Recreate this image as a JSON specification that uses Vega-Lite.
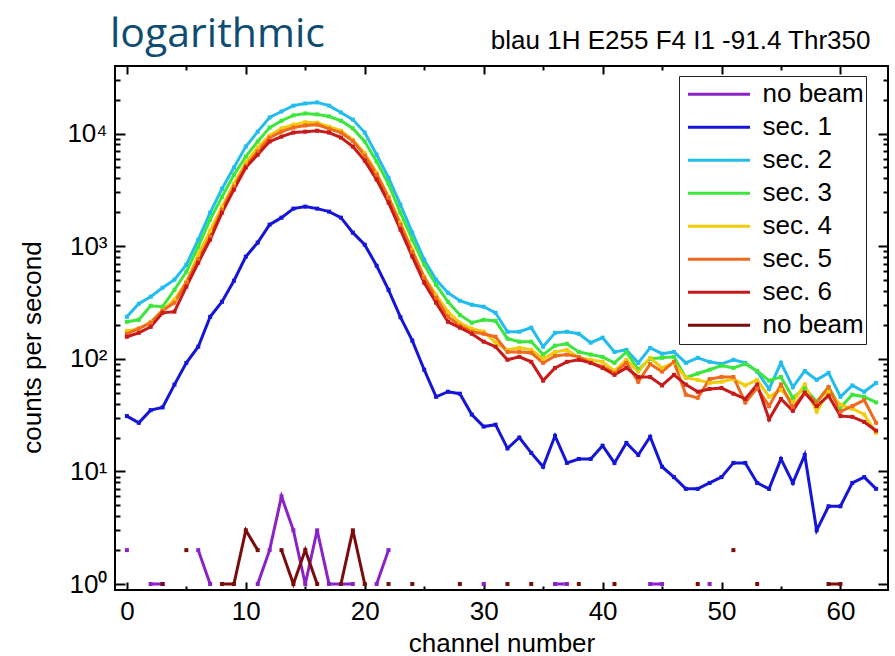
{
"$schema": "https://vega.github.io/schema/vega-lite/v6.json",
"width": 773, "height": 524,
"autosize": {"type": "none"},
"padding": {"left": 115, "top": 66, "right": 7, "bottom": 66},
"background": "white",
"title": {"text": "logarithmic", "anchor": "start", "frame": "group", "font": "Open Sans", "fontSize": 41, "fontWeight": "normal", "color": "#0F4C72", "baseline": "alphabetic", "offset": 0, "dx": -5, "dy": 61},
"data": {"values": [
{"c":0,"s":"nb1","v":2},{"c":1,"s":"nb1","v":null},{"c":2,"s":"nb1","v":1},{"c":3,"s":"nb1","v":1},{"c":4,"s":"nb1","v":null},{"c":6,"s":"nb1","v":2},{"c":7,"s":"nb1","v":1},{"c":8,"s":"nb1","v":null},{"c":11,"s":"nb1","v":1},{"c":12,"s":"nb1","v":2},{"c":13,"s":"nb1","v":6},{"c":14,"s":"nb1","v":3},{"c":15,"s":"nb1","v":1},{"c":16,"s":"nb1","v":3},{"c":17,"s":"nb1","v":1},{"c":18,"s":"nb1","v":1},{"c":19,"s":"nb1","v":1},{"c":20,"s":"nb1","v":null},{"c":21,"s":"nb1","v":1},{"c":22,"s":"nb1","v":2},{"c":23,"s":"nb1","v":null},{"c":30,"s":"nb1","v":1},{"c":31,"s":"nb1","v":null},{"c":36,"s":"nb1","v":1},{"c":37,"s":"nb1","v":1},{"c":38,"s":"nb1","v":null},{"c":44,"s":"nb1","v":1},{"c":45,"s":"nb1","v":1},{"c":46,"s":"nb1","v":null},{"c":49,"s":"nb1","v":1},
{"c":0,"s":"s1","v":31},{"c":1,"s":"s1","v":27},{"c":2,"s":"s1","v":35},{"c":3,"s":"s1","v":37},{"c":4,"s":"s1","v":59},{"c":5,"s":"s1","v":92},{"c":6,"s":"s1","v":128},{"c":7,"s":"s1","v":236},{"c":8,"s":"s1","v":321},{"c":9,"s":"s1","v":493},
{"c":10,"s":"s1","v":807},{"c":11,"s":"s1","v":1075},{"c":12,"s":"s1","v":1553},{"c":13,"s":"s1","v":1792},{"c":14,"s":"s1","v":2155},{"c":15,"s":"s1","v":2245},{"c":16,"s":"s1","v":2155},{"c":17,"s":"s1","v":2027},{"c":18,"s":"s1","v":1792},{"c":19,"s":"s1","v":1318},
{"c":20,"s":"s1","v":1030},{"c":21,"s":"s1","v":670},{"c":22,"s":"s1","v":410},{"c":23,"s":"s1","v":234},{"c":24,"s":"s1","v":145},{"c":25,"s":"s1","v":80},{"c":26,"s":"s1","v":46},{"c":27,"s":"s1","v":51},{"c":28,"s":"s1","v":49},{"c":29,"s":"s1","v":32},
{"c":30,"s":"s1","v":25},{"c":31,"s":"s1","v":26},{"c":32,"s":"s1","v":16},{"c":33,"s":"s1","v":20},{"c":34,"s":"s1","v":14.6},{"c":35,"s":"s1","v":11},{"c":36,"s":"s1","v":20.7},{"c":37,"s":"s1","v":11.9},{"c":38,"s":"s1","v":12.9},{"c":39,"s":"s1","v":12.9},
{"c":40,"s":"s1","v":16.9},{"c":41,"s":"s1","v":11.9},{"c":42,"s":"s1","v":17.9},{"c":43,"s":"s1","v":14},{"c":44,"s":"s1","v":20.3},{"c":45,"s":"s1","v":11},{"c":46,"s":"s1","v":8.9},{"c":47,"s":"s1","v":7},{"c":48,"s":"s1","v":7},{"c":49,"s":"s1","v":7.9},
{"c":50,"s":"s1","v":8.9},{"c":51,"s":"s1","v":11.9},{"c":52,"s":"s1","v":11.9},{"c":53,"s":"s1","v":7.9},{"c":54,"s":"s1","v":7},{"c":55,"s":"s1","v":12.9},{"c":56,"s":"s1","v":7.9},{"c":57,"s":"s1","v":14},{"c":58,"s":"s1","v":3},{"c":59,"s":"s1","v":4.9},
{"c":60,"s":"s1","v":4.9},{"c":61,"s":"s1","v":7.9},{"c":62,"s":"s1","v":8.9},{"c":63,"s":"s1","v":7},
{"c":0,"s":"s2","v":236},{"c":1,"s":"s2","v":308},{"c":2,"s":"s2","v":356},{"c":3,"s":"s2","v":428},{"c":4,"s":"s2","v":504},{"c":5,"s":"s2","v":685},{"c":6,"s":"s2","v":1142},{"c":7,"s":"s2","v":1985},{"c":8,"s":"s2","v":3245},{"c":9,"s":"s2","v":4990},
{"c":10,"s":"s2","v":7660},{"c":11,"s":"s2","v":10400},{"c":12,"s":"s2","v":13900},{"c":13,"s":"s2","v":15700},{"c":14,"s":"s2","v":17700},{"c":15,"s":"s2","v":18500},{"c":16,"s":"s2","v":18900},{"c":17,"s":"s2","v":17700},{"c":18,"s":"s2","v":15400},{"c":19,"s":"s2","v":13300},
{"c":20,"s":"s2","v":10200},{"c":21,"s":"s2","v":6500},{"c":22,"s":"s2","v":4060},{"c":23,"s":"s2","v":2340},{"c":24,"s":"s2","v":1318},{"c":25,"s":"s2","v":759},{"c":26,"s":"s2","v":504},{"c":27,"s":"s2","v":386},{"c":28,"s":"s2","v":328},{"c":29,"s":"s2","v":302},
{"c":30,"s":"s2","v":290},{"c":31,"s":"s2","v":256},{"c":32,"s":"s2","v":174},{"c":33,"s":"s2","v":174},{"c":34,"s":"s2","v":189},{"c":35,"s":"s2","v":128},{"c":36,"s":"s2","v":170},{"c":37,"s":"s2","v":174},{"c":38,"s":"s2","v":167},{"c":39,"s":"s2","v":139},
{"c":40,"s":"s2","v":154},{"c":41,"s":"s2","v":115},{"c":42,"s":"s2","v":120},{"c":43,"s":"s2","v":92},{"c":44,"s":"s2","v":125},{"c":45,"s":"s2","v":111},{"c":46,"s":"s2","v":115},{"c":47,"s":"s2","v":92},{"c":48,"s":"s2","v":102},{"c":49,"s":"s2","v":94},
{"c":50,"s":"s2","v":90},{"c":51,"s":"s2","v":98},{"c":52,"s":"s2","v":92},{"c":53,"s":"s2","v":77},{"c":54,"s":"s2","v":54},{"c":55,"s":"s2","v":92},{"c":56,"s":"s2","v":56},{"c":57,"s":"s2","v":78},{"c":58,"s":"s2","v":65},{"c":59,"s":"s2","v":75},
{"c":60,"s":"s2","v":46},{"c":61,"s":"s2","v":58},{"c":62,"s":"s2","v":51},{"c":63,"s":"s2","v":61},
{"c":0,"s":"s3","v":213},{"c":1,"s":"s3","v":222},{"c":2,"s":"s3","v":296},{"c":3,"s":"s3","v":290},{"c":4,"s":"s3","v":410},{"c":5,"s":"s3","v":593},{"c":6,"s":"s3","v":990},{"c":7,"s":"s3","v":1720},{"c":8,"s":"s3","v":2750},{"c":9,"s":"s3","v":4300},
{"c":10,"s":"s3","v":6250},{"c":11,"s":"s3","v":8500},{"c":12,"s":"s3","v":11300},{"c":13,"s":"s3","v":13000},{"c":14,"s":"s3","v":14500},{"c":15,"s":"s3","v":15100},{"c":16,"s":"s3","v":14800},{"c":17,"s":"s3","v":14200},{"c":18,"s":"s3","v":13000},{"c":19,"s":"s3","v":11100},
{"c":20,"s":"s3","v":8500},{"c":21,"s":"s3","v":5640},{"c":22,"s":"s3","v":3560},{"c":23,"s":"s3","v":1985},{"c":24,"s":"s3","v":1142},{"c":25,"s":"s3","v":685},{"c":26,"s":"s3","v":455},{"c":27,"s":"s3","v":321},{"c":28,"s":"s3","v":245},{"c":29,"s":"s3","v":209},
{"c":30,"s":"s3","v":222},{"c":31,"s":"s3","v":217},{"c":32,"s":"s3","v":151},{"c":33,"s":"s3","v":142},{"c":34,"s":"s3","v":142},{"c":35,"s":"s3","v":109},{"c":36,"s":"s3","v":131},{"c":37,"s":"s3","v":136},{"c":38,"s":"s3","v":115},{"c":39,"s":"s3","v":109},
{"c":40,"s":"s3","v":104},{"c":41,"s":"s3","v":92},{"c":42,"s":"s3","v":115},{"c":43,"s":"s3","v":80},{"c":44,"s":"s3","v":100},{"c":45,"s":"s3","v":102},{"c":46,"s":"s3","v":104},{"c":47,"s":"s3","v":68},{"c":48,"s":"s3","v":74},{"c":49,"s":"s3","v":80},
{"c":50,"s":"s3","v":87},{"c":51,"s":"s3","v":83},{"c":52,"s":"s3","v":90},{"c":53,"s":"s3","v":78},{"c":54,"s":"s3","v":64},{"c":55,"s":"s3","v":69},{"c":56,"s":"s3","v":45},{"c":57,"s":"s3","v":55},{"c":58,"s":"s3","v":41.5},{"c":59,"s":"s3","v":56},
{"c":60,"s":"s3","v":37},{"c":61,"s":"s3","v":48},{"c":62,"s":"s3","v":46},{"c":63,"s":"s3","v":41},
{"c":0,"s":"s4","v":177},{"c":1,"s":"s4","v":185},{"c":2,"s":"s4","v":212},{"c":3,"s":"s4","v":270},{"c":4,"s":"s4","v":334},{"c":5,"s":"s4","v":483},{"c":6,"s":"s4","v":840},{"c":7,"s":"s4","v":1374},{"c":8,"s":"s4","v":2245},{"c":9,"s":"s4","v":3590},
{"c":10,"s":"s4","v":5530},{"c":11,"s":"s4","v":7510},{"c":12,"s":"s4","v":9600},{"c":13,"s":"s4","v":11100},{"c":14,"s":"s4","v":12000},{"c":15,"s":"s4","v":12600},{"c":16,"s":"s4","v":12500},{"c":17,"s":"s4","v":11500},{"c":18,"s":"s4","v":10600},{"c":19,"s":"s4","v":8800},
{"c":20,"s":"s4","v":6700},{"c":21,"s":"s4","v":4500},{"c":22,"s":"s4","v":2750},{"c":23,"s":"s4","v":1618},{"c":24,"s":"s4","v":930},{"c":25,"s":"s4","v":536},{"c":26,"s":"s4","v":370},{"c":27,"s":"s4","v":262},{"c":28,"s":"s4","v":209},{"c":29,"s":"s4","v":185},
{"c":30,"s":"s4","v":174},{"c":31,"s":"s4","v":139},{"c":32,"s":"s4","v":120},{"c":33,"s":"s4","v":125},{"c":34,"s":"s4","v":120},{"c":35,"s":"s4","v":100},{"c":36,"s":"s4","v":115},{"c":37,"s":"s4","v":120},{"c":38,"s":"s4","v":102},{"c":39,"s":"s4","v":98},
{"c":40,"s":"s4","v":94},{"c":41,"s":"s4","v":78},{"c":42,"s":"s4","v":98},{"c":43,"s":"s4","v":77},{"c":44,"s":"s4","v":102},{"c":45,"s":"s4","v":83},{"c":46,"s":"s4","v":92},{"c":47,"s":"s4","v":68},{"c":48,"s":"s4","v":65},{"c":49,"s":"s4","v":61},
{"c":50,"s":"s4","v":62.5},{"c":51,"s":"s4","v":66},{"c":52,"s":"s4","v":58},{"c":53,"s":"s4","v":65},{"c":54,"s":"s4","v":46},{"c":55,"s":"s4","v":53},{"c":56,"s":"s4","v":41.5},{"c":57,"s":"s4","v":59},{"c":58,"s":"s4","v":34},{"c":59,"s":"s4","v":51},
{"c":60,"s":"s4","v":39},{"c":61,"s":"s4","v":36},{"c":62,"s":"s4","v":32},{"c":63,"s":"s4","v":22},
{"c":0,"s":"s5","v":167},{"c":1,"s":"s5","v":185},{"c":2,"s":"s5","v":209},{"c":3,"s":"s5","v":267},{"c":4,"s":"s5","v":315},{"c":5,"s":"s5","v":474},{"c":6,"s":"s5","v":759},{"c":7,"s":"s5","v":1214},{"c":8,"s":"s5","v":2110},{"c":9,"s":"s5","v":3380},
{"c":10,"s":"s5","v":5200},{"c":11,"s":"s5","v":6920},{"c":12,"s":"s5","v":9210},{"c":13,"s":"s5","v":10400},{"c":14,"s":"s5","v":11300},{"c":15,"s":"s5","v":11800},{"c":16,"s":"s5","v":12000},{"c":17,"s":"s5","v":11000},{"c":18,"s":"s5","v":10200},{"c":19,"s":"s5","v":8600},
{"c":20,"s":"s5","v":6400},{"c":21,"s":"s5","v":4320},{"c":22,"s":"s5","v":2700},{"c":23,"s":"s5","v":1553},{"c":24,"s":"s5","v":894},{"c":25,"s":"s5","v":525},{"c":26,"s":"s5","v":349},{"c":27,"s":"s5","v":236},{"c":28,"s":"s5","v":197},{"c":29,"s":"s5","v":174},
{"c":30,"s":"s5","v":167},{"c":31,"s":"s5","v":157},{"c":32,"s":"s5","v":115},{"c":33,"s":"s5","v":115},{"c":34,"s":"s5","v":113},{"c":35,"s":"s5","v":92},{"c":36,"s":"s5","v":106},{"c":37,"s":"s5","v":109},{"c":38,"s":"s5","v":104},{"c":39,"s":"s5","v":92},
{"c":40,"s":"s5","v":85},{"c":41,"s":"s5","v":75},{"c":42,"s":"s5","v":92},{"c":43,"s":"s5","v":62.5},{"c":44,"s":"s5","v":90},{"c":45,"s":"s5","v":77},{"c":46,"s":"s5","v":94},{"c":47,"s":"s5","v":48},{"c":48,"s":"s5","v":45},{"c":49,"s":"s5","v":66},
{"c":50,"s":"s5","v":69},{"c":51,"s":"s5","v":69},{"c":52,"s":"s5","v":41},{"c":53,"s":"s5","v":55},{"c":54,"s":"s5","v":38},{"c":55,"s":"s5","v":59},{"c":56,"s":"s5","v":37},{"c":57,"s":"s5","v":50},{"c":58,"s":"s5","v":41},{"c":59,"s":"s5","v":56},
{"c":60,"s":"s5","v":34},{"c":61,"s":"s5","v":38},{"c":62,"s":"s5","v":43},{"c":63,"s":"s5","v":27},
{"c":0,"s":"s6","v":157},{"c":1,"s":"s6","v":170},{"c":2,"s":"s6","v":192},{"c":3,"s":"s6","v":256},{"c":4,"s":"s6","v":262},{"c":5,"s":"s6","v":437},{"c":6,"s":"s6","v":713},{"c":7,"s":"s6","v":1142},{"c":8,"s":"s6","v":1985},{"c":9,"s":"s6","v":3180},
{"c":10,"s":"s6","v":4990},{"c":11,"s":"s6","v":6500},{"c":12,"s":"s6","v":8490},{"c":13,"s":"s6","v":9400},{"c":14,"s":"s6","v":10200},{"c":15,"s":"s6","v":10400},{"c":16,"s":"s6","v":10600},{"c":17,"s":"s6","v":10200},{"c":18,"s":"s6","v":9210},{"c":19,"s":"s6","v":7660},
{"c":20,"s":"s6","v":5750},{"c":21,"s":"s6","v":3900},{"c":22,"s":"s6","v":2440},{"c":23,"s":"s6","v":1400},{"c":24,"s":"s6","v":807},{"c":25,"s":"s6","v":474},{"c":26,"s":"s6","v":315},{"c":27,"s":"s6","v":213},{"c":28,"s":"s6","v":189},{"c":29,"s":"s6","v":167},
{"c":30,"s":"s6","v":142},{"c":31,"s":"s6","v":128},{"c":32,"s":"s6","v":98},{"c":33,"s":"s6","v":104},{"c":34,"s":"s6","v":94},{"c":35,"s":"s6","v":64},{"c":36,"s":"s6","v":83},{"c":37,"s":"s6","v":94},{"c":38,"s":"s6","v":98},{"c":39,"s":"s6","v":92},
{"c":40,"s":"s6","v":83},{"c":41,"s":"s6","v":72},{"c":42,"s":"s6","v":83},{"c":43,"s":"s6","v":69},{"c":44,"s":"s6","v":69},{"c":45,"s":"s6","v":58},{"c":46,"s":"s6","v":72},{"c":47,"s":"s6","v":59},{"c":48,"s":"s6","v":51},{"c":49,"s":"s6","v":54},
{"c":50,"s":"s6","v":55},{"c":51,"s":"s6","v":49},{"c":52,"s":"s6","v":44},{"c":53,"s":"s6","v":59},{"c":54,"s":"s6","v":29},{"c":55,"s":"s6","v":44},{"c":56,"s":"s6","v":34.5},{"c":57,"s":"s6","v":50},{"c":58,"s":"s6","v":38},{"c":59,"s":"s6","v":47},
{"c":60,"s":"s6","v":31},{"c":61,"s":"s6","v":30.5},{"c":62,"s":"s6","v":27.5},{"c":63,"s":"s6","v":23},
{"c":3,"s":"nb2","v":1},{"c":4,"s":"nb2","v":null},{"c":5,"s":"nb2","v":2},{"c":6,"s":"nb2","v":null},{"c":8,"s":"nb2","v":1},{"c":9,"s":"nb2","v":1},{"c":10,"s":"nb2","v":3},{"c":11,"s":"nb2","v":2},{"c":12,"s":"nb2","v":null},{"c":13,"s":"nb2","v":2},{"c":14,"s":"nb2","v":1},{"c":15,"s":"nb2","v":2},{"c":16,"s":"nb2","v":1},{"c":17,"s":"nb2","v":null},{"c":18,"s":"nb2","v":1},{"c":19,"s":"nb2","v":3},{"c":20,"s":"nb2","v":1},{"c":21,"s":"nb2","v":null},{"c":22,"s":"nb2","v":1},{"c":23,"s":"nb2","v":null},{"c":24,"s":"nb2","v":1},{"c":25,"s":"nb2","v":null},{"c":28,"s":"nb2","v":1},{"c":29,"s":"nb2","v":null},{"c":32,"s":"nb2","v":1},{"c":33,"s":"nb2","v":null},{"c":34,"s":"nb2","v":1},{"c":35,"s":"nb2","v":null},{"c":38,"s":"nb2","v":1},{"c":39,"s":"nb2","v":null},{"c":41,"s":"nb2","v":1},{"c":42,"s":"nb2","v":null},{"c":48,"s":"nb2","v":1},{"c":49,"s":"nb2","v":null},{"c":51,"s":"nb2","v":2},{"c":52,"s":"nb2","v":null},{"c":53,"s":"nb2","v":1},{"c":54,"s":"nb2","v":null},{"c":59,"s":"nb2","v":1},{"c":60,"s":"nb2","v":1}
]},
"resolve": {"axis": {"x": "independent", "y": "independent"}},
"layer": [
{
"mark": {"type": "line", "strokeWidth": 3, "invalid": "break-paths-filter-domains"},
"encoding": {
"x": {"field": "c", "type": "quantitative", "scale": {"domain": [-1, 64], "nice": false, "zero": false},
 "axis": {"orient": "bottom", "values": [0,5,10,15,20,25,30,35,40,45,50,55,60], "labelExpr": "datum.value % 10 == 0 ? datum.label : ''", "tickSize": {"condition": {"test": "datum.value % 10 == 0", "value": -8}, "value": -4}, "labelPadding": 16, "title": "channel number", "titleY": 61, "titleBaseline": "alphabetic", "labelOverlap": false, "labelFlush": false}},
"y": {"field": "v", "type": "quantitative", "scale": {"type": "log", "domain": [0.885, 39800], "nice": false},
 "axis": {"orient": "left", "values": [1,2,3,4,5,6,7,8,9,10,20,30,40,50,60,70,80,90,100,200,300,400,500,600,700,800,900,1000,2000,3000,4000,5000,6000,7000,8000,9000,10000,20000,30000], "labelExpr": "datum.value == 1 ? '10⁰' : datum.value == 10 ? '10¹' : datum.value == 100 ? '10²' : datum.value == 1000 ? '10³' : datum.value == 10000 ? '10⁴' : ''", "tickSize": {"condition": {"test": "datum.value == 1 || datum.value == 10 || datum.value == 100 || datum.value == 1000 || datum.value == 10000", "value": -10}, "value": -5}, "labelPadding": 18, "title": "counts per second", "titleX": -75, "titleY": 281, "titleBaseline": "alphabetic", "labelOverlap": false, "labelFlush": false}},
"color": {"field": "s", "type": "nominal",
 "scale": {"domain": ["nb1","s1","s2","s3","s4","s5","s6","nb2"], "range": ["#8B22C8","#1515D8","#22BDEE","#3CE63C","#F2CC0C","#F06A1E","#C81A1A","#7A0C0C"]},
 "legend": {"orient": "none", "legendX": 564, "legendY": 10, "title": null, "symbolType": "stroke", "symbolSize": 3844, "symbolStrokeWidth": 3, "clipHeight": 32.5, "rowPadding": 0, "padding": 2, "symbolOffset": 5.5, "labelOffset": 11, "labelFontSize": 26, "labelFont": "Liberation Sans", "labelColor": "black", "strokeColor": "#222", "fillColor": "white", "labelExpr": "indexof(datum.label, 'nb') == 0 ? 'no beam' : 'sec. ' + substring(datum.label, 1)"}}
}
},
{
"mark": {"type": "point", "shape": "square", "filled": true, "size": 16, "opacity": 1},
"encoding": {
"x": {"field": "c", "type": "quantitative", "scale": {"domain": [-1, 64], "nice": false, "zero": false}, "axis": null},
"y": {"field": "v", "type": "quantitative", "scale": {"type": "log", "domain": [0.885, 39800], "nice": false}, "axis": null},
"color": {"field": "s", "type": "nominal",
 "scale": {"domain": ["nb1","s1","s2","s3","s4","s5","s6","nb2"], "range": ["#8B22C8","#1515D8","#22BDEE","#3CE63C","#F2CC0C","#F06A1E","#C81A1A","#7A0C0C"]},
 "legend": {"orient": "none", "legendX": 564, "legendY": 10, "title": null, "symbolType": "stroke", "symbolSize": 3844, "symbolStrokeWidth": 3, "clipHeight": 32.5, "rowPadding": 0, "padding": 2, "symbolOffset": 5.5, "labelOffset": 11, "labelFontSize": 26, "labelFont": "Liberation Sans", "labelColor": "black", "strokeColor": "#222", "fillColor": "white", "labelExpr": "indexof(datum.label, 'nb') == 0 ? 'no beam' : 'sec. ' + substring(datum.label, 1)"}}
}
},
{
"mark": {"type": "point", "opacity": 0},
"encoding": {
"x": {"field": "c", "type": "quantitative", "scale": {"domain": [-1, 64], "nice": false, "zero": false},
 "axis": {"orient": "top", "values": [0,5,10,15,20,25,30,35,40,45,50,55,60], "labels": false, "tickSize": {"condition": {"test": "datum.value % 10 == 0", "value": -8}, "value": -4}, "title": "blau 1H E255 F4 I1 -91.4 Thr350", "titleX": 755, "titleY": -18, "titleAlign": "right", "titleBaseline": "alphabetic"}},
"y": {"field": "v", "type": "quantitative", "scale": {"type": "log", "domain": [0.885, 39800], "nice": false},
 "axis": {"orient": "right", "values": [1,2,3,4,5,6,7,8,9,10,20,30,40,50,60,70,80,90,100,200,300,400,500,600,700,800,900,1000,2000,3000,4000,5000,6000,7000,8000,9000,10000,20000,30000], "labels": false, "tickSize": {"condition": {"test": "datum.value == 1 || datum.value == 10 || datum.value == 100 || datum.value == 1000 || datum.value == 10000", "value": -10}, "value": -5}, "title": null}}
}
}
],
"config": {
"font": "Liberation Sans",
"view": {"stroke": "black", "strokeWidth": 2},
"axis": {"domain": false, "grid": false, "ticks": true, "tickColor": "black", "tickWidth": 2, "labelFont": "Liberation Sans", "labelFontSize": 26, "labelColor": "black", "titleFont": "Liberation Sans", "titleFontSize": 26, "titleFontWeight": "normal", "titleColor": "black"}
}
}
